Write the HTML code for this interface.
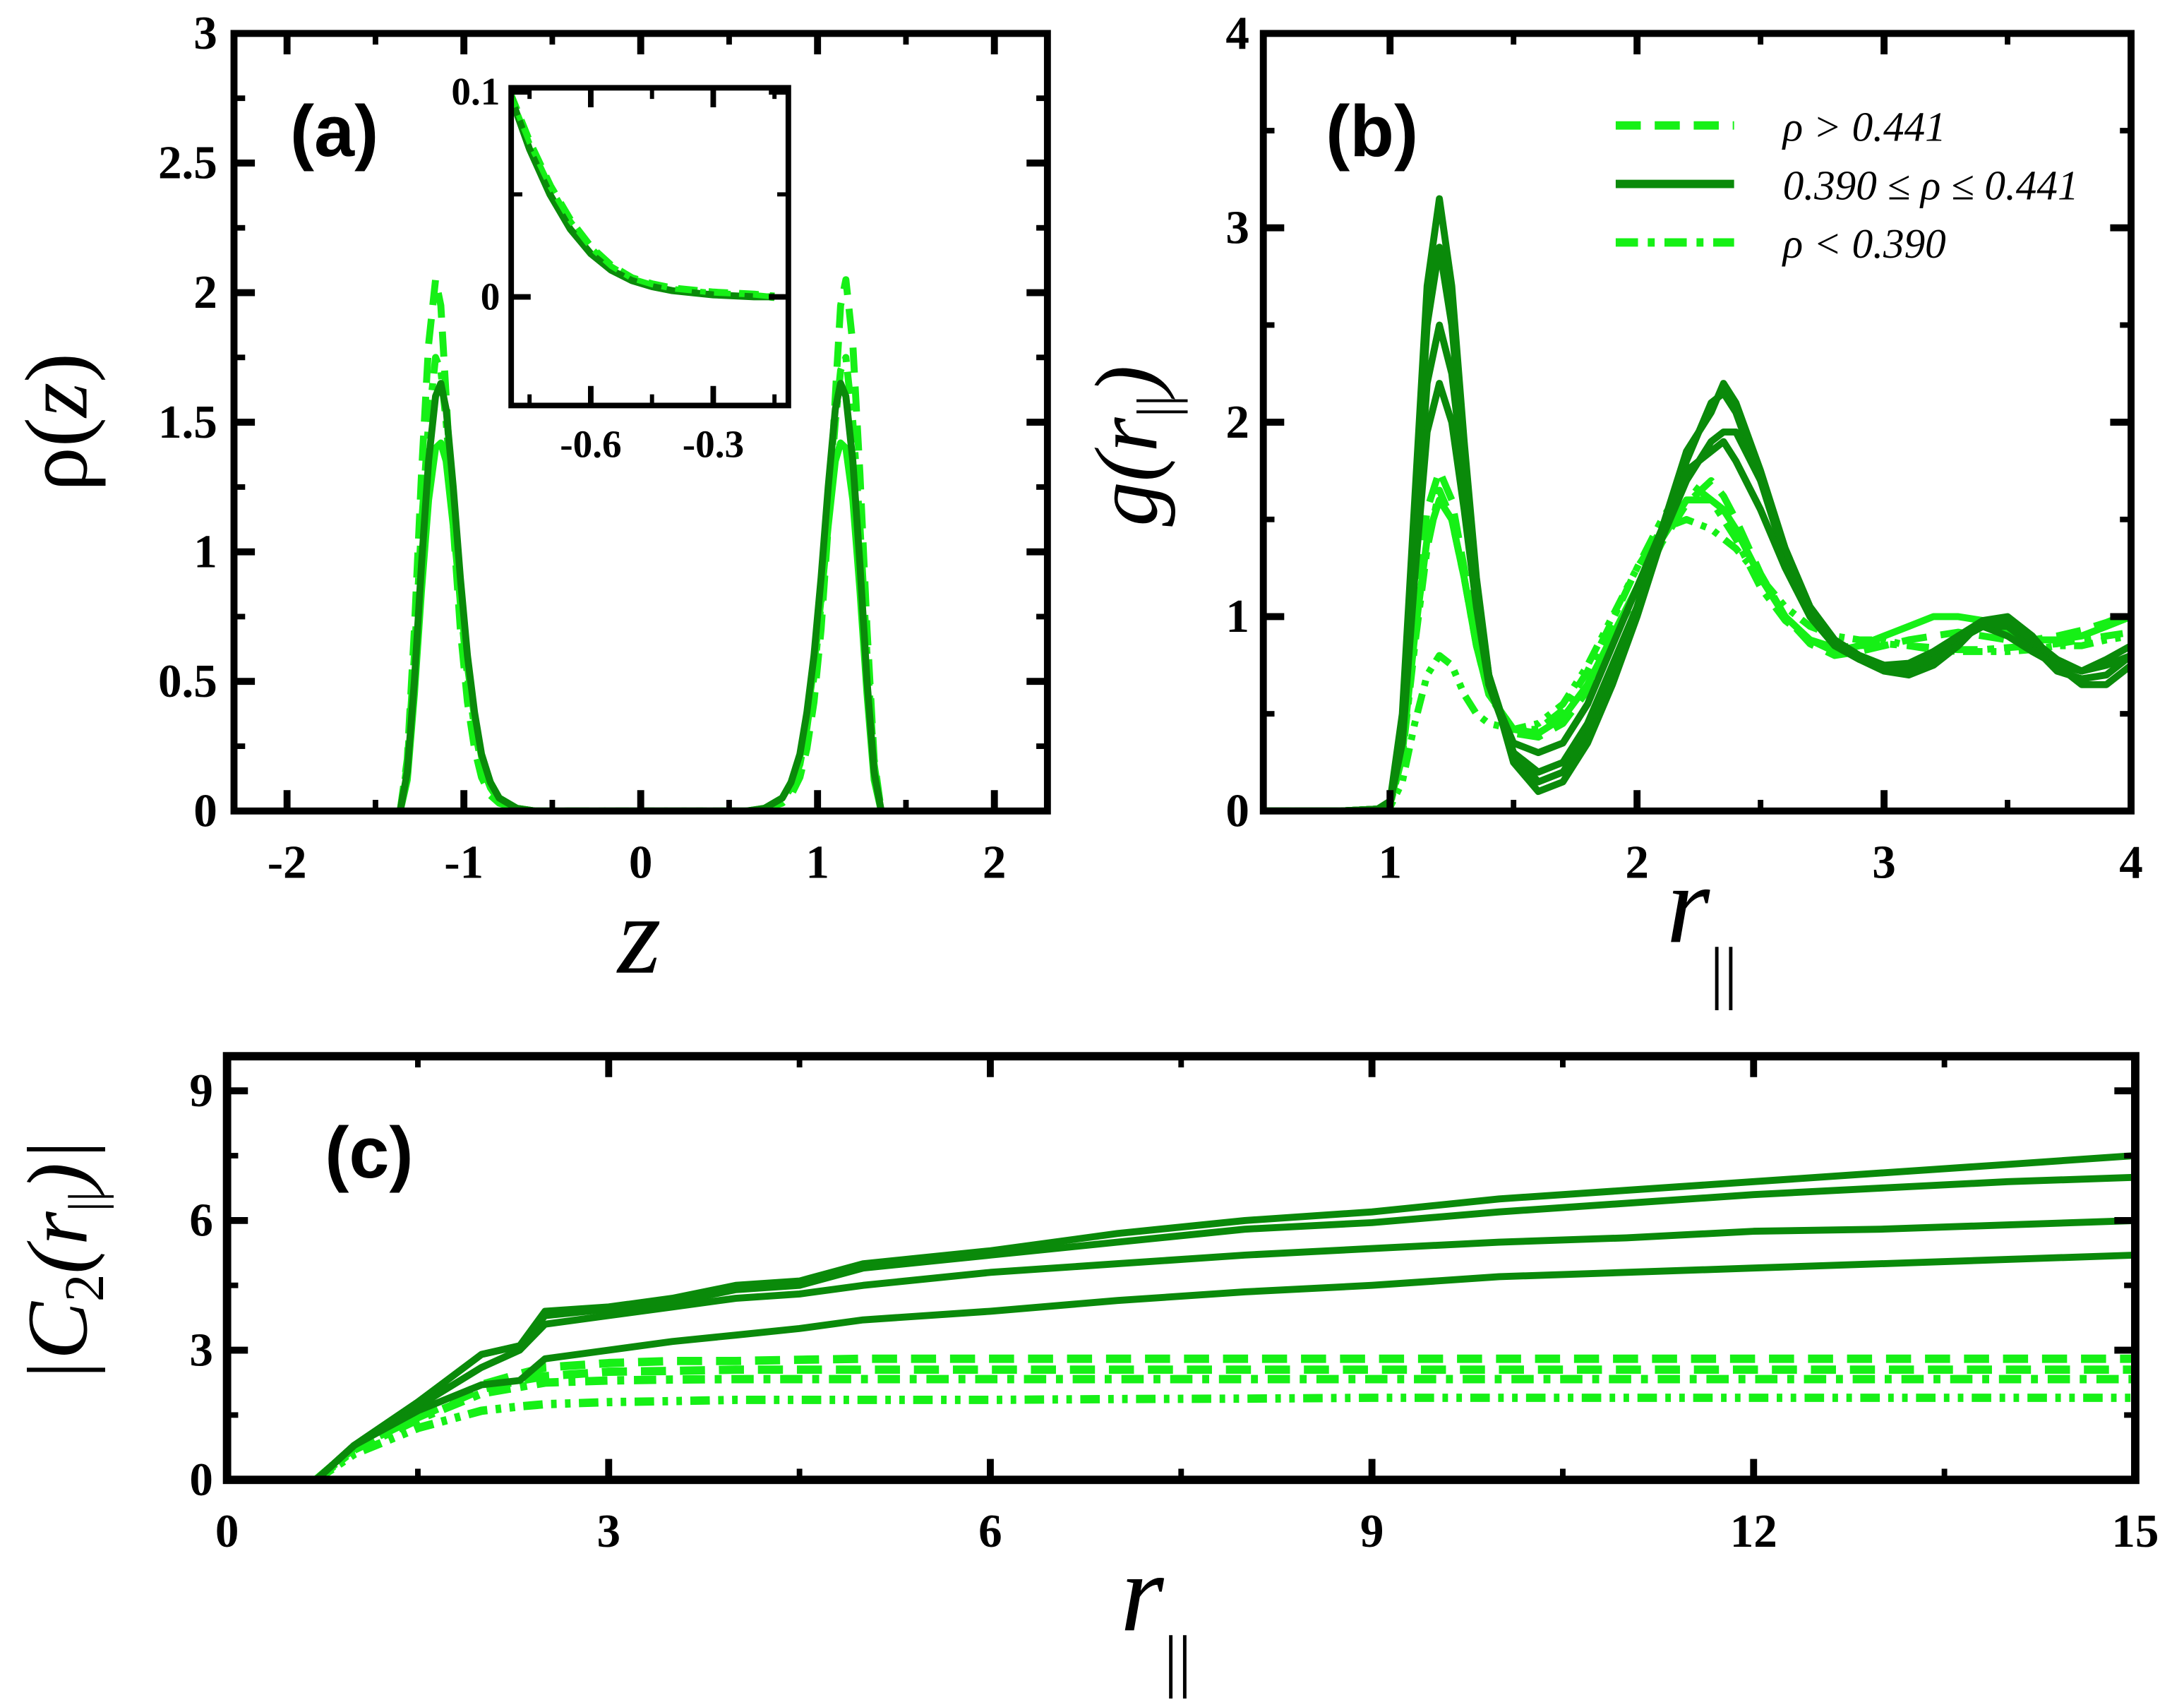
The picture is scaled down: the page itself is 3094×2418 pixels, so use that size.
<!DOCTYPE html>
<html><head><meta charset="utf-8"><style>
html,body{margin:0;padding:0;background:#fff;}
svg{display:block;}
text{font-family:"Liberation Serif",serif;}
</style></head><body>
<svg id="fig" width="3094" height="2418" viewBox="0 0 1568 1225" preserveAspectRatio="none" xmlns="http://www.w3.org/2000/svg"></svg>
<script>
// ---------- DATA ----------
const zHalf = [-1.36,-1.32,-1.28,-1.24,-1.2,-1.16,-1.13,-1.1,-1.06,-1.02,-0.98,-0.94,-0.9,-0.85,-0.8,-0.7,-0.6,-0.4,0];
const rhoDark  = [0,0.15,0.5,0.95,1.35,1.6,1.65,1.55,1.25,0.9,0.6,0.38,0.22,0.11,0.05,0.01,0,0,0];
const rhoDash  = [0,0.2,0.7,1.3,1.8,2.05,1.95,1.6,1.1,0.7,0.42,0.24,0.13,0.06,0.03,0.01,0,0,0];
const rhoDashDot = [0,0.18,0.6,1.1,1.5,1.75,1.7,1.5,1.15,0.8,0.52,0.32,0.18,0.09,0.04,0.01,0,0,0];
const rhoLight = [0,0.12,0.45,0.85,1.2,1.4,1.42,1.35,1.1,0.82,0.56,0.36,0.21,0.11,0.05,0.01,0,0,0];
const zInset = [-0.8,-0.75,-0.7,-0.65,-0.6,-0.55,-0.5,-0.45,-0.4,-0.3,-0.2,-0.15];
const inDark = [0.1,0.072,0.05,0.033,0.021,0.013,0.008,0.005,0.003,0.001,0.0,0.0];
const inLight = [0.1,0.075,0.054,0.037,0.024,0.015,0.009,0.006,0.004,0.002,0.001,0.0];
const rB = [0.5,0.8,0.95,1.0,1.05,1.1,1.15,1.2,1.25,1.3,1.35,1.4,1.5,1.6,1.7,1.8,1.9,2.0,2.1,2.2,2.3,2.35,2.4,2.5,2.6,2.7,2.8,2.9,3.0,3.1,3.2,3.3,3.4,3.5,3.6,3.7,3.8,3.9,4.0];
const gDark1 = [0,0,0.01,0.05,0.5,1.6,2.7,3.15,2.7,1.9,1.2,0.7,0.25,0.1,0.15,0.35,0.65,1.0,1.4,1.8,2.1,2.15,2.05,1.7,1.3,1.0,0.85,0.78,0.72,0.7,0.75,0.85,0.98,1.0,0.9,0.75,0.65,0.65,0.75];
const gDark2 = [0,0,0.01,0.05,0.45,1.5,2.5,2.9,2.5,1.8,1.15,0.7,0.3,0.15,0.2,0.4,0.7,1.05,1.45,1.85,2.05,2.2,2.1,1.75,1.35,1.05,0.88,0.8,0.75,0.72,0.78,0.88,0.95,0.95,0.85,0.72,0.68,0.7,0.8];
const gDark3 = [0,0,0.01,0.04,0.4,1.3,2.2,2.5,2.25,1.7,1.1,0.65,0.3,0.2,0.25,0.45,0.75,1.05,1.4,1.7,1.9,1.95,1.95,1.7,1.35,1.05,0.88,0.8,0.75,0.73,0.8,0.9,0.98,0.97,0.88,0.78,0.72,0.75,0.8];
const gDark4 = [0,0,0.01,0.04,0.35,1.2,1.95,2.2,2.0,1.55,1.05,0.65,0.35,0.3,0.35,0.55,0.85,1.15,1.45,1.75,1.85,1.9,1.8,1.55,1.25,1.0,0.85,0.78,0.75,0.76,0.82,0.9,0.95,0.9,0.82,0.75,0.72,0.78,0.85];
const gLight1 = [0,0,0.01,0.04,0.3,0.9,1.4,1.6,1.5,1.2,0.85,0.6,0.42,0.4,0.48,0.65,0.9,1.15,1.4,1.6,1.6,1.55,1.45,1.2,1.0,0.88,0.82,0.85,0.9,0.95,1.0,1.0,0.98,0.92,0.88,0.88,0.9,0.95,1.0];
const gLight2 = [0,0,0.01,0.04,0.35,1.0,1.55,1.75,1.6,1.25,0.88,0.6,0.4,0.38,0.45,0.62,0.88,1.12,1.38,1.58,1.7,1.62,1.5,1.22,1.0,0.86,0.8,0.82,0.85,0.88,0.9,0.92,0.9,0.88,0.88,0.9,0.93,0.97,1.02];
const gLight3 = [0,0,0.01,0.03,0.28,0.85,1.35,1.65,1.5,1.2,0.85,0.6,0.42,0.42,0.52,0.72,0.98,1.25,1.5,1.7,1.6,1.5,1.4,1.15,0.98,0.88,0.84,0.85,0.86,0.85,0.84,0.83,0.83,0.84,0.85,0.86,0.88,0.9,0.92];
const gLight4 = [0,0,0,0.02,0.15,0.45,0.7,0.8,0.75,0.6,0.5,0.45,0.42,0.45,0.55,0.75,1.0,1.25,1.45,1.5,1.45,1.4,1.35,1.2,1.05,0.95,0.9,0.88,0.88,0.85,0.83,0.82,0.82,0.82,0.83,0.85,0.85,0.88,0.9];
const rC = [0.7,1.0,1.5,2.0,2.3,2.5,3,3.5,4,4.5,5,6,7,8,9,10,11,12,13,14,15];
const cDark1 = [0,0.8,1.8,2.9,3.1,3.9,4.0,4.2,4.5,4.6,5.0,5.3,5.7,6.0,6.2,6.5,6.7,6.9,7.1,7.3,7.5];
const cDark2 = [0,0.8,1.8,2.9,3.1,3.8,3.95,4.1,4.4,4.5,4.9,5.2,5.5,5.8,5.95,6.2,6.4,6.6,6.75,6.9,7.0];
const cDark3 = [0,0.8,1.7,2.6,3.0,3.6,3.8,4.0,4.2,4.3,4.5,4.8,5.0,5.2,5.35,5.5,5.6,5.75,5.8,5.9,6.0];
const cDark4 = [0,0.8,1.6,2.2,2.3,2.8,3.0,3.2,3.35,3.5,3.7,3.9,4.15,4.35,4.5,4.7,4.8,4.9,5.0,5.1,5.2];
const cLight1 = [0,0.75,1.5,2.2,2.45,2.6,2.7,2.75,2.75,2.78,2.8,2.8,2.8,2.8,2.8,2.8,2.8,2.8,2.8,2.8,2.8];
const cLight2 = [0,0.75,1.45,2.1,2.3,2.4,2.5,2.52,2.55,2.55,2.55,2.55,2.55,2.55,2.55,2.55,2.55,2.55,2.55,2.55,2.55];
const cLight3 = [0,0.7,1.4,2.0,2.15,2.25,2.3,2.32,2.33,2.33,2.33,2.33,2.33,2.33,2.33,2.33,2.33,2.33,2.33,2.33,2.33];
const cLight4 = [0,0.6,1.2,1.6,1.7,1.75,1.8,1.82,1.85,1.85,1.85,1.85,1.87,1.88,1.9,1.9,1.9,1.9,1.9,1.9,1.9];

// ---------- DRAWING ----------
const NS="http://www.w3.org/2000/svg";
const svg=document.getElementById('fig');
const DARK="#0a8a0a", LIGHT="#16f016";
function el(tag,attrs,parent){const e=document.createElementNS(NS,tag);for(const k in attrs)e.setAttribute(k,attrs[k]);(parent||svg).appendChild(e);return e;}
function axis(x0,x1,px0,px1){return v=>px0+(v-x0)/(x1-x0)*(px1-px0);}
function line(xs,ys,fx,fy,color,dash,name,w,parent){
  const pts=xs.map((x,i)=>fx(x).toFixed(1)+','+fy(ys[i]).toFixed(1)).join(' ');
  const p=el('polyline',{points:pts,fill:'none',stroke:color,'stroke-width':w||5,'stroke-dasharray':dash||'none','stroke-linejoin':'round'},parent);
  
  
  return p;
}
function frame(L,R,T,B,name,w){
  const r=el('rect',{x:L,y:T,width:R-L,height:B-T,fill:'none',stroke:'#000','stroke-width':w||5});
  
  
}
function ticksX(vals,fx,T,B,len,w){vals.forEach(v=>{const x=fx(v);el('line',{x1:x,x2:x,y1:B,y2:B-len,stroke:'#000','stroke-width':w});el('line',{x1:x,x2:x,y1:T,y2:T+len,stroke:'#000','stroke-width':w});});}
function ticksY(vals,fy,L,R,len,w){vals.forEach(v=>{const y=fy(v);el('line',{x1:L,x2:L+len,y1:y,y2:y,stroke:'#000','stroke-width':w});el('line',{x1:R,x2:R-len,y1:y,y2:y,stroke:'#000','stroke-width':w});});}
function label(x,y,txt,size,name,anchor,extra){
  const t=el('text',Object.assign({x:x,y:y,'font-size':size,'font-weight':'bold','text-anchor':anchor||'middle'},extra||{}));
  t.textContent=txt;
  
  
  return t;
}
const SANS={style:'font-family:"Liberation Sans",sans-serif;font-weight:bold'};
function clip(id,L,R,T,B){const c=el('clipPath',{id:id});el('rect',{x:L,y:T,width:R-L,height:B-T},c);}
function group(id,name){const g=el('g',{'clip-path':'url(#'+id+')'});return g;}

// ===== Panel (a) =====
(function(){
const L=168,R=752,T=24,B=582;
const fx=axis(-2.3,2.3,L,R), fy=axis(0,3,B,T);
clip('ca',L,R,T,B);
const g=group('ca','plot-a-lines');
const zFull=zHalf.concat(zHalf.slice(0,-1).reverse().map(z=>-z));
const mir=a=>a.concat(a.slice(0,-1).reverse());
line(zFull,mir(rhoDash),fx,fy,LIGHT,'18,10','rho-dashed',5,g);
line(zFull,mir(rhoDashDot),fx,fy,LIGHT,'16,7,5,7','rho-dashdot',5,g);
line(zFull,mir(rhoLight),fx,fy,LIGHT,'none','rho-light-solid',5,g);
line(zFull,mir(rhoDark),fx,fy,DARK,'none','rho-dark-solid',5,g);
frame(L,R,T,B,'plot-a-frame',5);
ticksX([-2,-1,0,1,2],fx,T,B,15,5); ticksX([-1.5,-0.5,0.5,1.5],fx,T,B,8,4);
ticksY([0.5,1,1.5,2,2.5],fy,L,R,15,5); ticksY([0.25,0.75,1.25,1.75,2.25,2.75],fy,L,R,8,4);
const yt=['0','0.5','1','1.5','2','2.5','3'];
yt.forEach((s,i)=>label(L-12,fy(i*0.5)+11,s,34,'y-tick-a','end'));
['-2','-1','0','1','2'].forEach((s,i)=>label(fx(i-2),B+48,s,34,'x-tick-a'));
label(240,112,'(a)',52,'panel-label-a','middle',SANS);
const yl=el('text',{x:0,y:0,'font-size':64,'text-anchor':'middle',transform:'translate(62,303) rotate(-90)'});
yl.innerHTML='ρ(<tspan font-style="italic">z</tspan>)';

const xl=el('text',{x:459,y:698,'font-size':80,'font-style':'italic','text-anchor':'middle'});xl.textContent='z';

const iL=367,iR=566,iT=63,iB=291;
el('rect',{x:iL,y:iT,width:iR-iL,height:iB-iT,fill:'#fff',stroke:'none'});
const ix=axis(-0.795,-0.116,iL,iR), iy=axis(-0.053,0.102,iB,iT);
clip('ci',iL,iR,iT,iB);
const gi=group('ci','inset-lines');
line(zInset,inLight,ix,iy,LIGHT,'14,8','inset-dashed',6,gi);
line(zInset,inDark,ix,iy,DARK,'none','inset-dark',5,gi);
line(zInset,inLight,ix,iy,LIGHT,'12,6,4,6','inset-dashdot',4,gi);
frame(iL,iR,iT,iB,'inset-frame',4);
ticksX([-0.6,-0.3],ix,iT,iB,14,4); ticksX([-0.75,-0.45,-0.15],ix,iT,iB,8,3);
ticksY([0,0.1],iy,iL,iR,14,4); ticksY([0.05],iy,iL,iR,8,3);
label(iL-8,iy(0.1)+9,'0.1',28,'inset-y-tick','end');
label(iL-8,iy(0)+9,'0',28,'inset-y-tick','end');
label(ix(-0.6),iB+37,'-0.6',28,'inset-x-tick');
label(ix(-0.3),iB+37,'-0.3',28,'inset-x-tick');
})();

// ===== Panel (b) =====
(function(){
const L=907,R=1530,T=24,B=582;
const fx=axis(0.487,4,L,R), fy=axis(0,4,B,T);
clip('cb',L,R,T,B);
const g=group('cb','plot-b-lines');
line(rB,gLight4,fx,fy,LIGHT,'14,6,4,6,4,6','g-light-dashdotdot',5,g);
line(rB,gLight3,fx,fy,LIGHT,'16,7,5,7','g-light-dashdot',5,g);
line(rB,gLight2,fx,fy,LIGHT,'18,10','g-light-dashed',5,g);
line(rB,gLight1,fx,fy,LIGHT,'none','g-light-solid',5,g);
[gDark1,gDark2,gDark3,gDark4].forEach((s,i)=>line(rB,s,fx,fy,DARK,'none','g-dark-'+(i+1),5,g));
frame(L,R,T,B,'plot-b-frame',5);
ticksX([1,2,3],fx,T,B,15,5); ticksX([1.5,2.5,3.5],fx,T,B,8,4);
ticksY([1,2,3],fy,L,R,15,5); ticksY([0.5,1.5,2.5,3.5],fy,L,R,8,4);
['0','1','2','3','4'].forEach((s,i)=>label(L-10,fy(i)+11,s,34,'y-tick-b','end'));
['1','2','3','4'].forEach((s,i)=>label(fx(i+1),B+48,s,34,'x-tick-b'));
label(985,112,'(b)',52,'panel-label-b','middle',SANS);
const yl=el('text',{x:0,y:0,'font-size':64,'font-style':'italic','text-anchor':'middle',transform:'translate(830,320) rotate(-90)'});
yl.innerHTML='g(r<tspan font-size="40" dy="14" font-style="normal">||</tspan><tspan dy="-14">)</tspan>';

const xl=el('text',{x:1222,y:676,'font-size':80,'font-style':'italic','text-anchor':'middle'});xl.innerHTML='r<tspan font-size="50" font-style="normal" dy="38">||</tspan>';

const lg=el('g',{});
const rows=[['18,10','ρ > 0.441',LIGHT,'legend-entry-high'],['none','0.390 ≤ ρ ≤ 0.441',DARK,'legend-entry-mid'],['16,7,5,7','ρ <  0.390',LIGHT,'legend-entry-low']];
rows.forEach((r,i)=>{const y=90+i*42;
 const l=el('line',{x1:1160,x2:1245,y1:y,y2:y,stroke:r[2],'stroke-width':6,'stroke-dasharray':r[0]},lg);
 
 const t=el('text',{x:1280,y:y+11,'font-size':30,'font-style':'italic'},lg);t.textContent=r[1];
 });
})();

// ===== Panel (c) =====
(function(){
const L=163,R=1533,T=758,B=1062;
const fx=axis(0,15,L,R), fy=axis(0,9.8,B,T);
clip('cc',L,R,T,B);
const g=group('cc','plot-c-lines');
line(rC,cLight4,fx,fy,LIGHT,'14,6,4,6,4,6','c2-light-dashdotdot',6,g);
line(rC,cLight3,fx,fy,LIGHT,'16,7,5,7','c2-light-dashdot',6,g);
line(rC,cLight2,fx,fy,LIGHT,'18,10','c2-light-dashed-2',6,g);
line(rC,cLight1,fx,fy,LIGHT,'18,10','c2-light-dashed-1',6,g);
[cDark1,cDark2,cDark3,cDark4].forEach((s,i)=>line(rC,s,fx,fy,DARK,'none','c2-dark-'+(i+1),5,g));
frame(L,R,T,B,'plot-c-frame',6);
ticksX([3,6,9,12],fx,T,B,15,5); ticksX([1.5,4.5,7.5,10.5,13.5],fx,T,B,8,4);
ticksY([3,6,9],fy,L,R,15,5); ticksY([1.5,4.5,7.5],fy,L,R,8,4);
['0','3','6','9'].forEach((s,i)=>label(L-10,fy(i*3)+11,s,34,'y-tick-c','end'));
['0','3','6','9','12','15'].forEach((s,i)=>label(fx(i*3),B+48,s,34,'x-tick-c'));
label(265,845,'(c)',52,'panel-label-c','middle',SANS);
const yl=el('text',{x:0,y:0,'font-size':62,'font-style':'italic','text-anchor':'middle',transform:'translate(62,905) rotate(-90)'});
yl.innerHTML='|C<tspan font-size="40" font-style="normal" dy="12">2</tspan><tspan dy="-12">(r</tspan><tspan font-size="36" font-style="normal" dy="12">||</tspan><tspan dy="-12">)|</tspan>';

const xl=el('text',{x:830,y:1170,'font-size':80,'font-style':'italic','text-anchor':'middle'});xl.innerHTML='r<tspan font-size="50" font-style="normal" dy="38">||</tspan>';

})();
</script>
</body></html>
